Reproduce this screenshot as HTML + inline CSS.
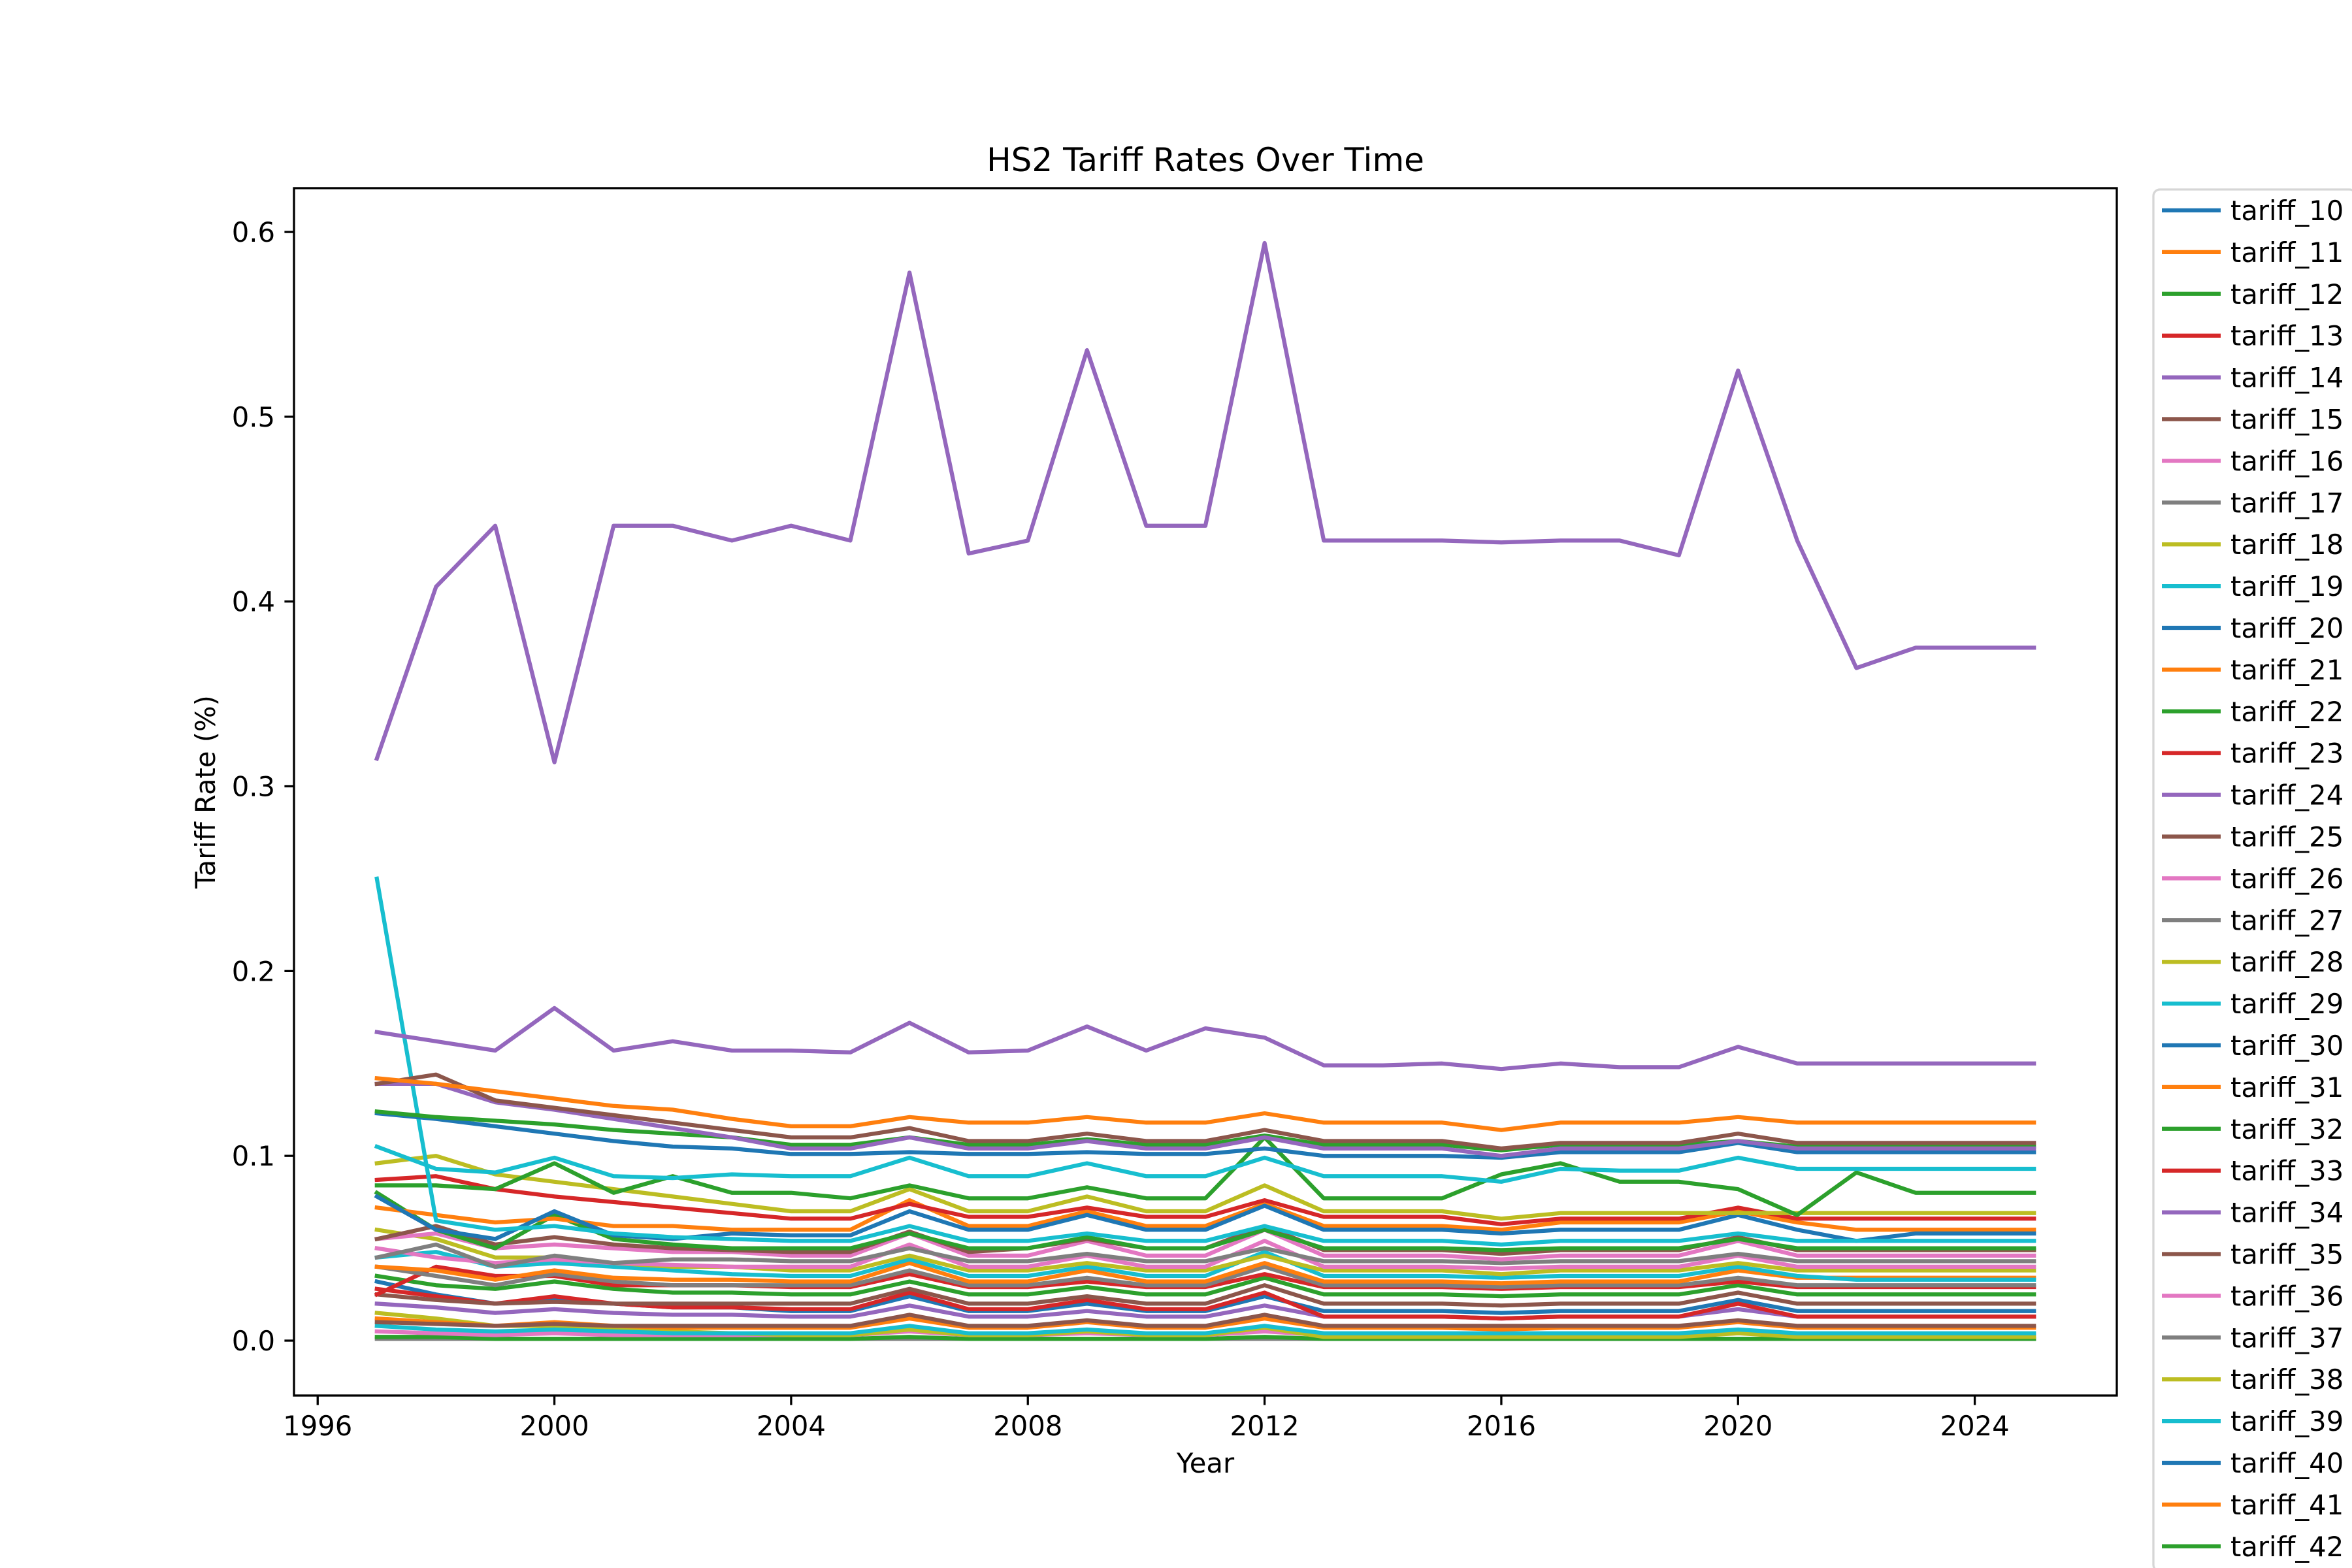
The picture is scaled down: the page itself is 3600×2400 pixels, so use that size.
<!DOCTYPE html>
<html><head><meta charset="utf-8"><style>
html,body{margin:0;padding:0;background:#fff;width:3600px;height:2400px;overflow:hidden;}
svg{display:block;font-family:"DejaVu Sans","Liberation Sans",sans-serif;}
</style></head><body>
<svg id="chart" xmlns="http://www.w3.org/2000/svg" width="3600" height="2400" viewBox="0 0 3600 2400">
<rect x="0" y="0" width="3600" height="2400" fill="#fff"/>
<text x="1845" y="262" font-size="50" text-anchor="middle">HS2 Tariff Rates Over Time</text>
<g id="plot"></g>
<g id="axes"></g>
<g id="legend"></g>
</svg>
<script>
const years = [1997,1998,1999,2000,2001,2002,2003,2004,2005,2006,2007,2008,2009,2010,2011,2012,2013,2014,2015,2016,2017,2018,2019,2020,2021,2022,2023,2024,2025];
const xTicks = [1996,2000,2004,2008,2012,2016,2020,2024];
const yTicks = [0,0.1,0.2,0.3,0.4,0.5,0.6];
const yTickLabels = ["0.0","0.1","0.2","0.3","0.4","0.5","0.6"];
const legendLabels = ["tariff_10","tariff_11","tariff_12","tariff_13","tariff_14","tariff_15","tariff_16","tariff_17","tariff_18","tariff_19","tariff_20","tariff_21","tariff_22","tariff_23","tariff_24","tariff_25","tariff_26","tariff_27","tariff_28","tariff_29","tariff_30","tariff_31","tariff_32","tariff_33","tariff_34","tariff_35","tariff_36","tariff_37","tariff_38","tariff_39","tariff_40","tariff_41","tariff_42","tariff_43","tariff_44","tariff_45"];
const palette = ["#1f77b4","#ff7f0e","#2ca02c","#d62728","#9467bd","#8c564b","#e377c2","#7f7f7f","#bcbd22","#17becf"];

const sGray0 = [0.001,0.001,0.001,0.001,0.001,0.001,0.001,0.001,0.001,0.001,0.001,0.001,0.001,0.001,0.001,0.001,0.001,0.001,0.001,0.001,0.001,0.001,0.001,0.001,0.001,0.001,0.001,0.001,0.001];
const sGreenLow = [0.002,0.002,0.001,0.001,0.001,0.001,0.001,0.001,0.001,0.002,0.001,0.001,0.001,0.001,0.001,0.002,0.001,0.001,0.001,0.001,0.001,0.001,0.001,0.001,0.001,0.001,0.001,0.001,0.001];
const sOliveLow = [0.015,0.012,0.008,0.008,0.006,0.005,0.004,0.003,0.003,0.006,0.003,0.003,0.005,0.003,0.003,0.007,0.002,0.002,0.002,0.002,0.002,0.002,0.002,0.004,0.002,0.002,0.002,0.002,0.002];
const sCyanLow = [0.008,0.006,0.005,0.006,0.005,0.004,0.004,0.004,0.004,0.008,0.004,0.004,0.006,0.004,0.004,0.008,0.004,0.004,0.004,0.004,0.004,0.004,0.004,0.006,0.004,0.004,0.004,0.004,0.004];
const sOrangeLow = [0.012,0.010,0.008,0.010,0.008,0.007,0.007,0.007,0.007,0.012,0.007,0.007,0.010,0.007,0.007,0.012,0.007,0.007,0.007,0.006,0.007,0.007,0.007,0.010,0.007,0.007,0.007,0.007,0.007];
const sPinkLow = [0.005,0.004,0.003,0.004,0.003,0.003,0.003,0.003,0.003,0.005,0.003,0.003,0.004,0.003,0.003,0.005,0.003,0.003,0.003,0.003,0.003,0.003,0.003,0.004,0.003,0.003,0.003,0.003,0.003];
const sBrownLow = [0.010,0.009,0.008,0.009,0.008,0.008,0.008,0.008,0.008,0.014,0.008,0.008,0.011,0.008,0.008,0.014,0.008,0.008,0.008,0.008,0.008,0.008,0.008,0.011,0.008,0.008,0.008,0.008,0.008];
const sPurpleLow = [0.020,0.018,0.015,0.017,0.015,0.014,0.014,0.013,0.013,0.019,0.013,0.013,0.016,0.013,0.013,0.019,0.013,0.013,0.013,0.012,0.013,0.013,0.013,0.017,0.013,0.013,0.013,0.013,0.013];
const sBlueLow = [0.032,0.025,0.020,0.022,0.020,0.018,0.018,0.016,0.016,0.024,0.016,0.016,0.020,0.016,0.016,0.024,0.016,0.016,0.016,0.015,0.016,0.016,0.016,0.022,0.016,0.016,0.016,0.016,0.016];
const sRedLow = [0.028,0.024,0.020,0.024,0.020,0.018,0.018,0.017,0.017,0.026,0.017,0.017,0.022,0.017,0.017,0.026,0.013,0.013,0.013,0.012,0.013,0.013,0.013,0.020,0.013,0.013,0.013,0.013,0.013];
const sBrownLow2 = [0.025,0.022,0.020,0.021,0.020,0.020,0.020,0.020,0.020,0.028,0.020,0.020,0.024,0.020,0.020,0.030,0.020,0.020,0.020,0.019,0.020,0.020,0.020,0.026,0.020,0.020,0.020,0.020,0.020];
const sGreenMid = [0.035,0.030,0.028,0.032,0.028,0.026,0.026,0.025,0.025,0.032,0.025,0.025,0.029,0.025,0.025,0.034,0.025,0.025,0.025,0.024,0.025,0.025,0.025,0.030,0.025,0.025,0.025,0.025,0.025];
const sRedMid = [0.025,0.040,0.035,0.035,0.030,0.030,0.030,0.029,0.029,0.036,0.029,0.029,0.032,0.029,0.029,0.036,0.029,0.029,0.029,0.028,0.029,0.029,0.029,0.032,0.029,0.029,0.029,0.029,0.029];
const sGrayMid = [0.040,0.035,0.030,0.036,0.032,0.030,0.030,0.030,0.030,0.038,0.030,0.030,0.034,0.030,0.030,0.040,0.030,0.030,0.030,0.029,0.030,0.030,0.030,0.034,0.030,0.030,0.030,0.030,0.030];
const sOrangeMid2 = [0.040,0.038,0.033,0.038,0.034,0.033,0.033,0.032,0.032,0.042,0.032,0.032,0.038,0.032,0.032,0.042,0.032,0.032,0.032,0.031,0.032,0.032,0.032,0.038,0.034,0.034,0.034,0.034,0.034];
const sCyanMid = [0.045,0.048,0.040,0.042,0.040,0.038,0.036,0.035,0.035,0.044,0.035,0.035,0.040,0.035,0.035,0.048,0.035,0.035,0.035,0.034,0.035,0.035,0.035,0.040,0.035,0.033,0.033,0.033,0.033];
const sOliveMid = [0.060,0.055,0.045,0.045,0.042,0.040,0.040,0.038,0.038,0.046,0.038,0.038,0.042,0.038,0.038,0.046,0.038,0.038,0.038,0.036,0.038,0.038,0.038,0.042,0.038,0.038,0.038,0.038,0.038];
const sPinkMid = [0.050,0.045,0.042,0.044,0.042,0.041,0.040,0.040,0.040,0.052,0.040,0.040,0.046,0.040,0.040,0.054,0.040,0.040,0.040,0.039,0.040,0.040,0.040,0.046,0.040,0.040,0.040,0.040,0.040];
const sGrayMid2 = [0.045,0.052,0.040,0.046,0.042,0.044,0.044,0.043,0.043,0.050,0.043,0.043,0.047,0.043,0.043,0.050,0.043,0.043,0.043,0.042,0.043,0.043,0.043,0.047,0.043,0.043,0.043,0.043,0.043];
const sPinkHigh = [0.055,0.058,0.050,0.052,0.050,0.048,0.048,0.046,0.046,0.058,0.046,0.046,0.054,0.046,0.046,0.060,0.046,0.046,0.046,0.044,0.046,0.046,0.046,0.054,0.046,0.046,0.046,0.046,0.046];
const sBrownMid = [0.055,0.062,0.052,0.056,0.052,0.050,0.049,0.048,0.048,0.059,0.048,0.050,0.055,0.050,0.050,0.062,0.049,0.049,0.049,0.047,0.049,0.049,0.049,0.056,0.049,0.049,0.049,0.049,0.049];
const sGreenMid2 = [0.080,0.060,0.050,0.068,0.055,0.052,0.050,0.050,0.050,0.058,0.050,0.050,0.056,0.050,0.050,0.060,0.050,0.050,0.050,0.049,0.050,0.050,0.050,0.055,0.050,0.050,0.050,0.050,0.050];
const sOrangeMid = [0.072,0.068,0.064,0.066,0.062,0.062,0.060,0.060,0.060,0.076,0.062,0.062,0.070,0.062,0.062,0.074,0.062,0.062,0.062,0.060,0.064,0.064,0.064,0.070,0.064,0.060,0.060,0.060,0.060];
const sBlueMid = [0.078,0.060,0.055,0.070,0.057,0.055,0.058,0.057,0.057,0.070,0.060,0.060,0.068,0.060,0.060,0.073,0.060,0.060,0.060,0.058,0.060,0.060,0.060,0.068,0.060,0.054,0.058,0.058,0.058];
const sRedHigh = [0.087,0.089,0.082,0.078,0.075,0.072,0.069,0.066,0.066,0.074,0.067,0.067,0.072,0.067,0.067,0.076,0.067,0.067,0.067,0.063,0.066,0.066,0.066,0.072,0.066,0.066,0.066,0.066,0.066];
const sOliveHigh = [0.096,0.100,0.090,0.086,0.082,0.078,0.074,0.070,0.070,0.082,0.070,0.070,0.078,0.070,0.070,0.084,0.070,0.070,0.070,0.066,0.069,0.069,0.069,0.069,0.069,0.069,0.069,0.069,0.069];
const sGreenSpiky = [0.084,0.084,0.082,0.096,0.080,0.089,0.080,0.080,0.077,0.084,0.077,0.077,0.083,0.077,0.077,0.110,0.077,0.077,0.077,0.090,0.096,0.086,0.086,0.082,0.068,0.091,0.080,0.080,0.080];
const sCyanHigh = [0.105,0.093,0.091,0.099,0.089,0.088,0.090,0.089,0.089,0.099,0.089,0.089,0.096,0.089,0.089,0.099,0.089,0.089,0.089,0.086,0.093,0.092,0.092,0.099,0.093,0.093,0.093,0.093,0.093];
const sCyanSpike = [0.250,0.065,0.060,0.062,0.058,0.056,0.055,0.054,0.054,0.062,0.054,0.054,0.058,0.054,0.054,0.062,0.054,0.054,0.054,0.052,0.054,0.054,0.054,0.058,0.054,0.054,0.054,0.054,0.054];
const sBlueHigh = [0.123,0.120,0.116,0.112,0.108,0.105,0.104,0.101,0.101,0.102,0.101,0.101,0.102,0.101,0.101,0.104,0.100,0.100,0.100,0.099,0.102,0.102,0.102,0.107,0.102,0.102,0.102,0.102,0.102];
const sGreenHigh = [0.124,0.121,0.119,0.117,0.114,0.112,0.110,0.106,0.106,0.110,0.106,0.106,0.109,0.106,0.106,0.111,0.106,0.106,0.106,0.103,0.106,0.106,0.106,0.108,0.105,0.105,0.105,0.105,0.105];
const sPurpleMid = [0.139,0.139,0.129,0.125,0.120,0.115,0.110,0.104,0.104,0.110,0.104,0.104,0.108,0.104,0.104,0.110,0.104,0.104,0.104,0.100,0.104,0.104,0.104,0.108,0.104,0.104,0.104,0.104,0.104];
const sBrownHigh = [0.139,0.144,0.130,0.126,0.122,0.118,0.114,0.110,0.110,0.115,0.108,0.108,0.112,0.108,0.108,0.114,0.108,0.108,0.108,0.104,0.107,0.107,0.107,0.112,0.107,0.107,0.107,0.107,0.107];
const sOrangeHigh = [0.142,0.139,0.135,0.131,0.127,0.125,0.120,0.116,0.116,0.121,0.118,0.118,0.121,0.118,0.118,0.123,0.118,0.118,0.118,0.114,0.118,0.118,0.118,0.121,0.118,0.118,0.118,0.118,0.118];
const sPurpleHigh = [0.167,0.162,0.157,0.180,0.157,0.162,0.157,0.157,0.156,0.172,0.156,0.157,0.170,0.157,0.169,0.164,0.149,0.149,0.150,0.147,0.150,0.148,0.148,0.159,0.150,0.150,0.150,0.150,0.150];
const sPurpleTop = [0.315,0.408,0.441,0.313,0.441,0.441,0.433,0.441,0.433,0.578,0.426,0.433,0.536,0.441,0.441,0.594,0.433,0.433,0.433,0.432,0.433,0.433,0.425,0.525,0.433,0.364,0.375,0.375,0.375];

const seriesList = [
 [sGray0,7],[sGreenLow,2],[sPinkLow,6],[sOliveLow,8],[sCyanLow,9],[sOrangeLow,1],[sBrownLow,5],[sPurpleLow,4],[sBlueLow,0],[sRedLow,3],[sBrownLow2,5],
 [sGreenMid,2],[sRedMid,3],[sGrayMid,7],[sOrangeMid2,1],[sCyanMid,9],[sOliveMid,8],[sPinkMid,6],[sGrayMid2,7],[sPinkHigh,6],[sBrownMid,5],[sGreenMid2,2],
 [sOrangeMid,1],[sBlueMid,0],[sRedHigh,3],[sOliveHigh,8],[sGreenSpiky,2],[sCyanHigh,9],[sCyanSpike,9],
 [sBlueHigh,0],[sGreenHigh,2],[sPurpleMid,4],[sBrownHigh,5],[sOrangeHigh,1],[sPurpleHigh,4],[sPurpleTop,4]
];

const AX = {left:450, right:3240, top:288, bottom:2136};
const X0 = 1995.6, X1 = 2026.4, Y0 = -0.0297, Y1 = 0.6237;
function xs(v){ return AX.left + (v - X0) / (X1 - X0) * (AX.right - AX.left); }
function ys(v){ return AX.bottom - (v - Y0) / (Y1 - Y0) * (AX.bottom - AX.top); }
const NS = "http://www.w3.org/2000/svg";
function mk(tag, parent){ const e = document.createElementNS(NS, tag); parent.appendChild(e); return e; }

const plot = document.getElementById('plot');
const clip = mk('clipPath', plot); clip.setAttribute('id','clipAx');
const cr = mk('rect', clip);
cr.setAttribute('x', AX.left); cr.setAttribute('y', AX.top); cr.setAttribute('width', AX.right-AX.left); cr.setAttribute('height', AX.bottom-AX.top);
const lines = mk('g', plot); lines.setAttribute('clip-path','url(#clipAx)');


seriesList.forEach((s, i) => {
  const vals = s[0];
  const d = vals.map((v, j) => (j ? 'L' : 'M') + xs(years[j]).toFixed(1) + ' ' + ys(v).toFixed(1)).join(' ');
  const p = mk('path', lines);
  p.setAttribute('d', d); p.setAttribute('fill','none'); p.setAttribute('stroke', palette[s[1]]);
  p.setAttribute('stroke-width','6.25'); p.setAttribute('stroke-linejoin','round'); p.setAttribute('stroke-linecap','square');
  
  
});

const axes = document.getElementById('axes');
const frame = mk('rect', axes);
frame.setAttribute('x', AX.left); frame.setAttribute('y', AX.top); frame.setAttribute('width', AX.right-AX.left); frame.setAttribute('height', AX.bottom-AX.top);
frame.setAttribute('fill','none'); frame.setAttribute('stroke','#000'); frame.setAttribute('stroke-width','3.3');


xTicks.forEach(t => {
  const x = xs(t);
  const l = mk('line', axes);
  l.setAttribute('x1', x); l.setAttribute('x2', x); l.setAttribute('y1', AX.bottom); l.setAttribute('y2', AX.bottom+14.6);
  l.setAttribute('stroke','#000'); l.setAttribute('stroke-width','3.3');
  
  
  const tx = mk('text', axes);
  tx.setAttribute('x', x); tx.setAttribute('y', AX.bottom+61); tx.setAttribute('font-size','41.7'); tx.setAttribute('text-anchor','middle');
  tx.textContent = t;
  
  
});
yTicks.forEach((t, i) => {
  const y = ys(t);
  const l = mk('line', axes);
  l.setAttribute('x1', AX.left-14.6); l.setAttribute('x2', AX.left); l.setAttribute('y1', y); l.setAttribute('y2', y);
  l.setAttribute('stroke','#000'); l.setAttribute('stroke-width','3.3');
  
  
  const tx = mk('text', axes);
  tx.setAttribute('x', AX.left-29); tx.setAttribute('y', y+15); tx.setAttribute('font-size','41.7'); tx.setAttribute('text-anchor','end');
  tx.textContent = yTickLabels[i];
  
  
});
const xl = mk('text', axes);
xl.setAttribute('x', (AX.left+AX.right)/2); xl.setAttribute('y', 2254); xl.setAttribute('font-size','41.7'); xl.setAttribute('text-anchor','middle');
xl.textContent = 'Year';


const yl = mk('text', axes);
yl.setAttribute('transform','translate(329,' + ((AX.top+AX.bottom)/2) + ') rotate(-90)');
yl.setAttribute('font-size','41.7'); yl.setAttribute('text-anchor','middle');
yl.textContent = 'Tariff Rate (%)';



const leg = document.getElementById('legend');
const lb = mk('rect', leg);
lb.setAttribute('x', 3296); lb.setAttribute('y', 290); lb.setAttribute('width', 310); lb.setAttribute('height', 2115);
lb.setAttribute('rx', 10); lb.setAttribute('fill','#fff'); lb.setAttribute('stroke','#d6d6d6'); lb.setAttribute('stroke-width','3.3');


legendLabels.forEach((name, i) => {
  const y = 322 + i * 63.9;
  if (y > 2440) return;
  const g = mk('g', leg);
  
  
  const l = mk('line', g);
  l.setAttribute('x1', 3309); l.setAttribute('x2', 3399); l.setAttribute('y1', y); l.setAttribute('y2', y);
  l.setAttribute('stroke', palette[i % 10]); l.setAttribute('stroke-width','6.25');
  const t = mk('text', g);
  t.setAttribute('x', 3414); t.setAttribute('y', y+15); t.setAttribute('font-size','41.7');
  t.textContent = name;
});
</script>
</body></html>
